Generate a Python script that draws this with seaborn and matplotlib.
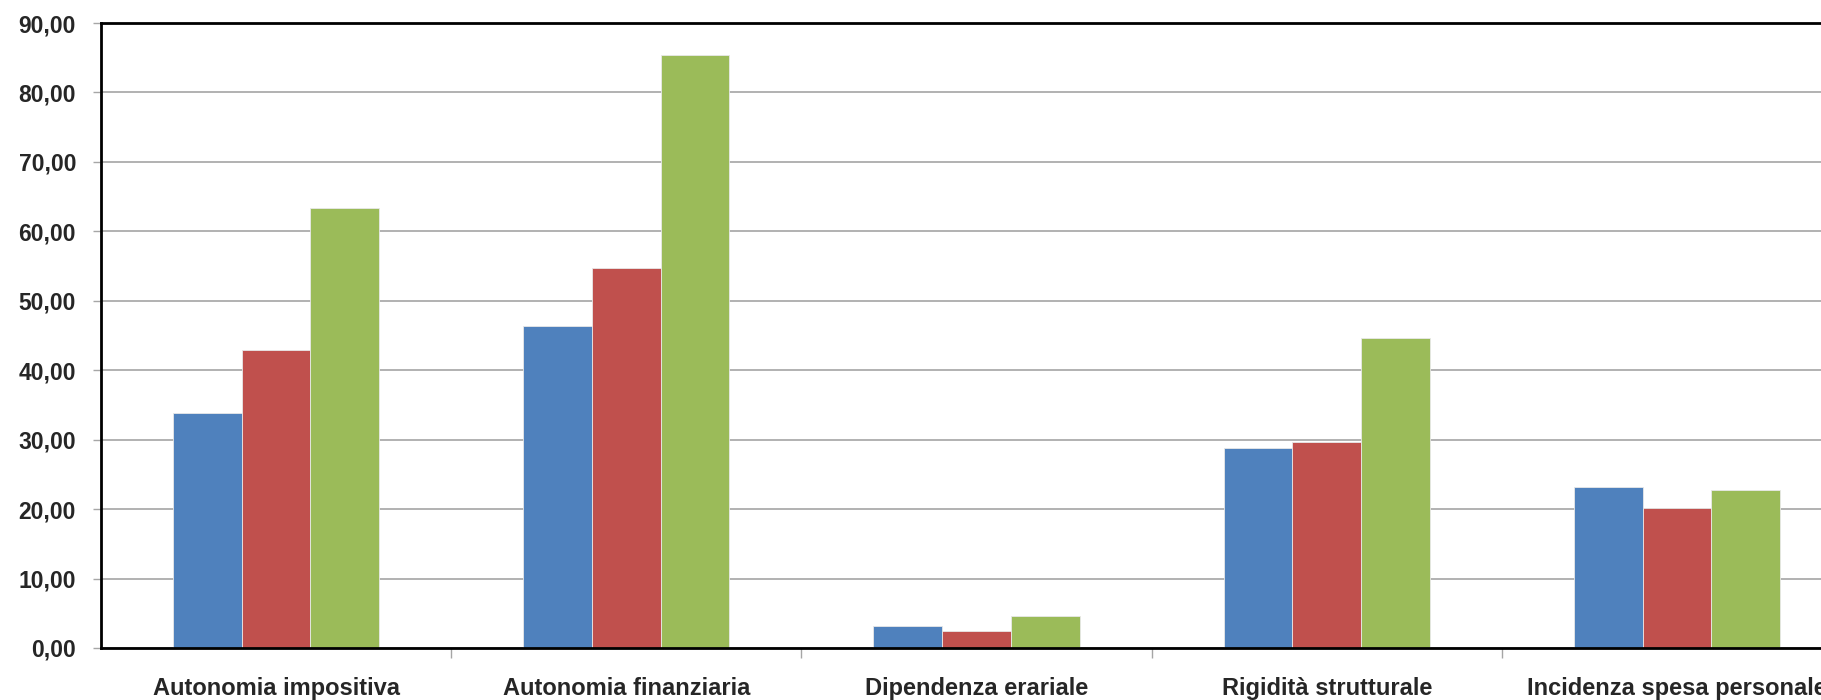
import pandas as pd
import matplotlib
matplotlib.use('Agg')
import matplotlib.pyplot as plt
import seaborn as sns
from matplotlib.ticker import FuncFormatter, MultipleLocator, FixedLocator

# データ
CATEGORIES = ['Autonomia impositiva', 'Autonomia finanziaria', 'Dipendenza erariale',
              'Rigidità strutturale', 'Incidenza spesa personale']
SERIES = ['Serie 1', 'Serie 2', 'Serie 3']
VAL_S1 = [33.8, 46.4, 3.2, 28.8, 23.2]
VAL_S2 = [42.9, 54.7, 2.5, 29.7, 20.1]
VAL_S3 = [63.3, 85.4, 4.6, 44.7, 22.7]
COLORS = ['#4F81BD', '#C0504D', '#9BBB59']

df = pd.DataFrame({
    'categoria': CATEGORIES * 3,
    'serie': [SERIES[0]] * 5 + [SERIES[1]] * 5 + [SERIES[2]] * 5,
    'valore': VAL_S1 + VAL_S2 + VAL_S3,
})

sns.set_style('white')
plt.rcParams['font.family'] = ['Liberation Sans', 'DejaVu Sans']

fig = plt.figure(figsize=(18.21, 7.0), dpi=100)
# 右端はキャンバスの外まで伸ばす（元画像でも最後のラベルが切れている）
ax = fig.add_axes([101 / 1821, 52 / 700, 1751 / 1821, 625 / 700])

sns.barplot(data=df, x='categoria', y='valore', hue='serie', order=CATEGORIES,
            hue_order=SERIES, palette=COLORS, width=0.589, saturation=1,
            edgecolor='#e8e8e8', linewidth=0.6, legend=False, ax=ax)

ax.set_xlim(-0.5, 4.5)
ax.set_ylim(0, 90)
ax.yaxis.set_major_locator(MultipleLocator(10))
ax.yaxis.set_major_formatter(FuncFormatter(lambda v, p: f'{v:.2f}'.replace('.', ',')))
ax.grid(axis='y', color='#ababab', linewidth=1.3)
ax.set_axisbelow(True)

for side in ['top', 'left', 'bottom']:
    ax.spines[side].set_color('black')
    ax.spines[side].set_linewidth(2.0)
ax.spines['right'].set_visible(False)

# 区切り目盛り
ax.xaxis.set_minor_locator(FixedLocator([0.5, 1.5, 2.5, 3.5]))
ax.tick_params(axis='x', which='minor', length=7, width=1, color='#a6a6a6', direction='out', bottom=True)
ax.tick_params(axis='x', which='major', length=0, pad=21, labelsize=17)
ax.tick_params(axis='y', which='major', length=6, width=1, color='#a6a6a6', direction='out',
               left=True, pad=12, labelsize=16.5)
for lbl in ax.get_xticklabels() + ax.get_yticklabels():
    lbl.set_fontweight('bold')

ax.set_xlabel('')
ax.set_ylabel('')

fig.savefig('out.png', dpi=100)
